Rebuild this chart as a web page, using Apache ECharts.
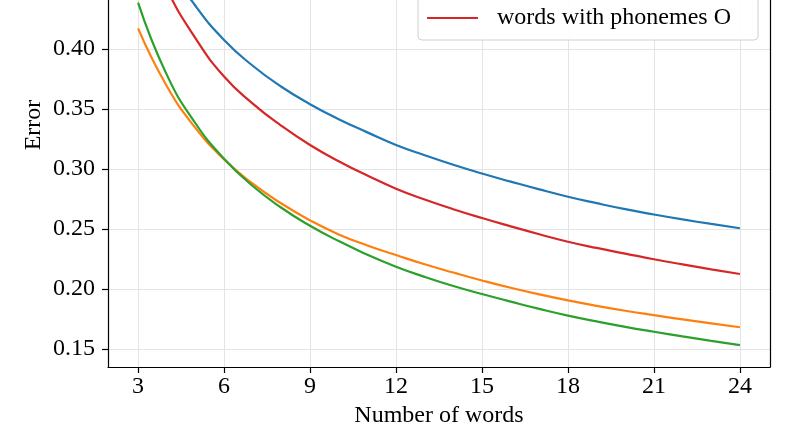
<!DOCTYPE html>
<html>
<head>
<meta charset="utf-8">
<script src="https://cdn.jsdelivr.net/npm/echarts@6/dist/echarts.min.js"></script>
<style>
  html, body { margin: 0; padding: 0; background: #fff; }
  #chart { width: 793px; height: 446px; }
</style>
</head>
<body>
<div id="chart"></div>
<script>
// data (plot is cut off at the top)
const words = [3, 4, 5, 6, 7, 8, 9, 10, 11, 12, 13, 14, 15, 16, 17, 18, 19, 20, 21, 22, 23, 24];
const blueErr = [0.519, 0.472, 0.436, 0.4075, 0.386, 0.3685, 0.354, 0.3415, 0.3305, 0.320, 0.3115, 0.3035, 0.2962, 0.2895, 0.283, 0.2769, 0.2715, 0.2665, 0.2621, 0.258, 0.2542, 0.2506];
const orangeErr = [0.4172, 0.3692, 0.3342, 0.3080, 0.2877, 0.2712, 0.2572, 0.2455, 0.2363, 0.2283, 0.2206, 0.2137, 0.2071, 0.2010, 0.1955, 0.1905, 0.186, 0.1819, 0.1782, 0.1747, 0.1713, 0.1681];
const greenErr = [0.4386, 0.3786, 0.3381, 0.3086, 0.2858, 0.2677, 0.2527, 0.2399, 0.2286, 0.2186, 0.2101, 0.2025, 0.1958, 0.1895, 0.1834, 0.1778, 0.173, 0.1685, 0.1644, 0.1605, 0.1568, 0.1533];
const redErr = [0.505, 0.450, 0.409, 0.377, 0.3545, 0.336, 0.320, 0.3065, 0.2945, 0.2836, 0.2745, 0.2665, 0.2591, 0.2522, 0.2456, 0.2394, 0.2342, 0.2295, 0.2248, 0.2205, 0.2164, 0.2125];
const redName = "words with phonemes O";

const xTicks = [3, 6, 9, 12, 15, 18, 21, 24];
const yTicks = [0.15, 0.20, 0.25, 0.30, 0.35, 0.40];

const font = '"Liberation Serif", "DejaVu Serif", serif';
const chart = echarts.init(document.getElementById("chart"));

const pairs = (ys) => words.map((w, i) => [w, ys[i]]);

const makeLine = (name, color, ys) => ({
    name: name,
    type: "line",
    data: pairs(ys),
    smooth: true,
    symbol: "none",
    clip: true,
    lineStyle: { color: color, width: 2.2 },
    itemStyle: { color: color },
    z: 3
});

const spine = { color: "#000", width: 1.2 };

const option = {
    animation: false,
    backgroundColor: "#fff",
    grid: { left: 108, right: 23, top: 0, bottom: 79 },
    xAxis: {
        type: "value",
        min: 1.95, max: 25.05,
        name: "Number of words",
        nameLocation: "middle",
        nameGap: 36,
        nameTextStyle: { fontFamily: font, fontSize: 24, color: "#000" },
        axisLine: { show: true, lineStyle: spine },
        axisTick: { show: true, inside: false, length: 6, customValues: xTicks, lineStyle: spine },
        axisLabel: { customValues: xTicks, fontFamily: font, fontSize: 24, color: "#000", margin: 8 },
        splitLine: { show: true, lineStyle: { color: "#e4e4e4", width: 1 } }
    },
    yAxis: [{
        type: "value",
        min: 0.135, max: 0.4408,
        axisLine: { show: true, lineStyle: spine },
        axisTick: { show: true, inside: false, length: 6, customValues: yTicks, lineStyle: spine },
        axisLabel: {
            customValues: yTicks, fontFamily: font, fontSize: 24, color: "#000", margin: 13,
            formatter: (v) => v.toFixed(2)
        },
        splitLine: { show: true, lineStyle: { color: "#e4e4e4", width: 1 } }
    }, {
        // right spine only
        type: "value",
        position: "right",
        min: 0.135, max: 0.4408,
        axisLine: { show: true, lineStyle: spine },
        axisTick: { show: false },
        axisLabel: { show: false },
        splitLine: { show: false }
    }],
    graphic: [{
        type: "text",
        x: 34, y: 125,
        rotation: Math.PI / 2,
        style: {
            text: "Error", fontFamily: font, fontSize: 24, fill: "#000",
            align: "center", verticalAlign: "middle"
        }
    }],
    legend: {
        data: [{ name: redName, icon: "rect" }],
        right: 35,
        bottom: 406,
        orient: "vertical",
        padding: [109, 27, 8, 9],
        itemWidth: 51,
        itemHeight: 2,
        backgroundColor: "rgba(255,255,255,0.9)",
        borderColor: "#d0d0d0",
        borderWidth: 1,
        borderRadius: 4,
        textStyle: { fontFamily: font, fontSize: 24, color: "#000", lineHeight: 28, padding: [0, 0, 0, 14] }
    },
    series: [
        makeLine(undefined, "#1f77b4", blueErr),
        makeLine(undefined, "#ff7f0e", orangeErr),
        makeLine(undefined, "#2ca02c", greenErr),
        makeLine(redName, "#d62728", redErr)
    ]
};

chart.setOption(option);
</script>
</body>
</html>
